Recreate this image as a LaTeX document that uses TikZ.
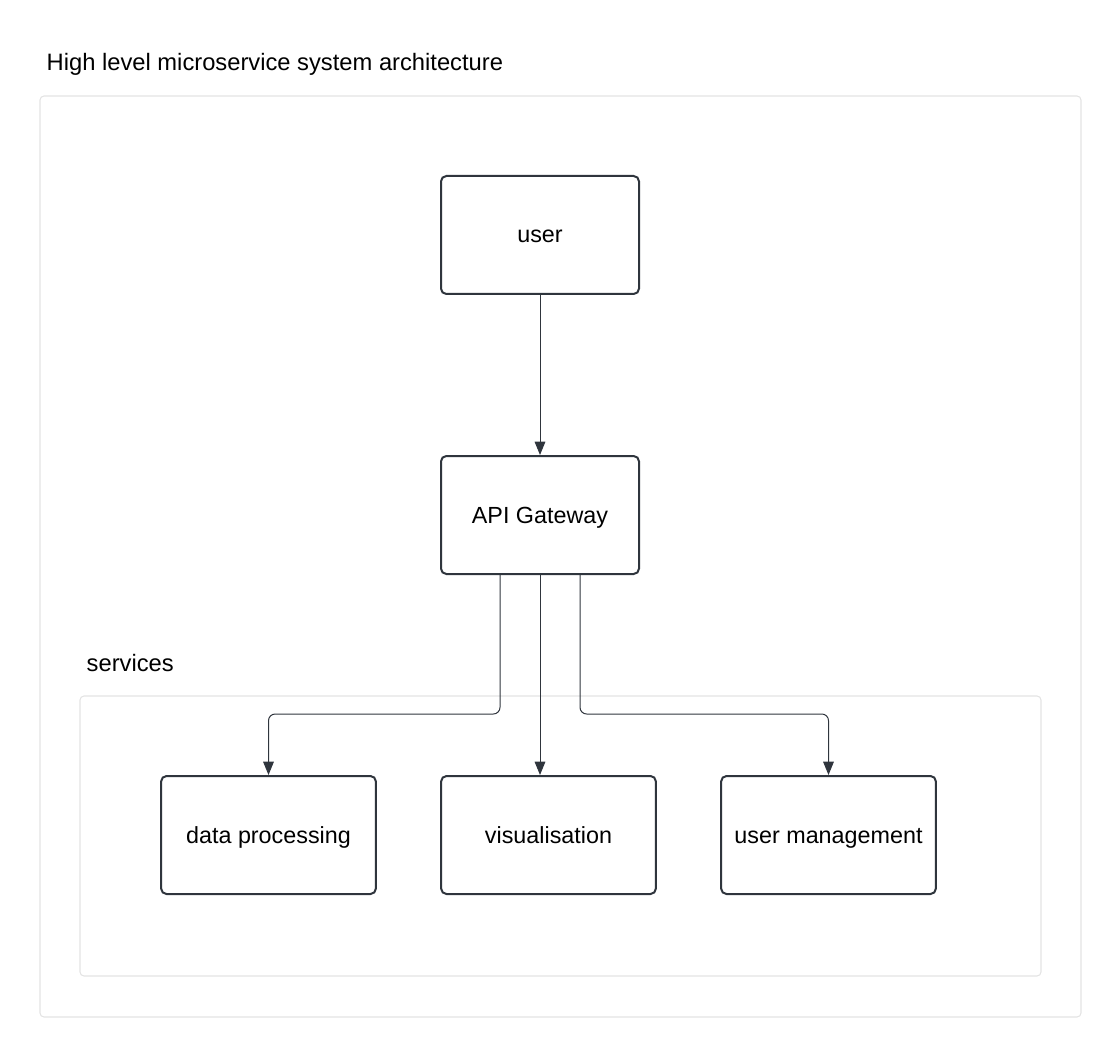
\documentclass[tikz,border=0pt]{standalone}
\usepackage{fontspec}
\setmainfont{Liberation Sans}
\usetikzlibrary{arrows.meta}

\definecolor{boxline}{HTML}{2F353D}
\definecolor{groupline}{HTML}{E3E3E3}

\tikzset{
  svcbox/.style={draw=boxline, line width=1.5pt, rounded corners=4pt, fill=white,
    minimum width=148pt, minimum height=88.5pt, text height=1.35em, text depth=0.15em,
    font=\fontsize{17.5}{20}\selectfont},
  group/.style={draw=groupline, line width=0.8pt, rounded corners=3pt},
  grouplabel/.style={anchor=west, font=\fontsize{17.8}{20}\selectfont},
  flow/.style={draw=boxline, line width=0.75pt, rounded corners=5pt, -{Triangle[length=10pt, width=8pt]}}
}

\begin{document}
\begin{tikzpicture}[x=0.75pt, y=-0.75pt]
\useasboundingbox (0,0) rectangle (1120,1055);
% groups
\draw[group] (40,96) rectangle (1081,1017);
\draw[group] (80,696) rectangle (1041,976);
\node[grouplabel] (title) at (42,64) {High level microservice system architecture};
\node[grouplabel] (svclabel) at (82,663) {services};
% nodes
\node[svcbox, minimum width=148.5pt] (user) at (540,235) {user};
\node[svcbox, minimum width=148.5pt] (gateway) at (540,515) {API Gateway};
\node[svcbox, minimum width=161pt] (dataproc) at (268.5,835) {data processing};
\node[svcbox, minimum width=161pt] (visual) at (548.5,835) {visualisation};
\node[svcbox, minimum width=161pt] (usermgmt) at (828.5,835) {user management};
% connectors
\path[flow] (user) -- (gateway);
\path[flow] ([xshift=-30pt]gateway.south) -- ++(0,139) -| (dataproc.north);
\path[flow] (gateway.south) -- (gateway.south |- visual.north);
\path[flow] ([xshift=30pt]gateway.south) -- ++(0,139) -| (usermgmt.north);
\end{tikzpicture}
\end{document}
